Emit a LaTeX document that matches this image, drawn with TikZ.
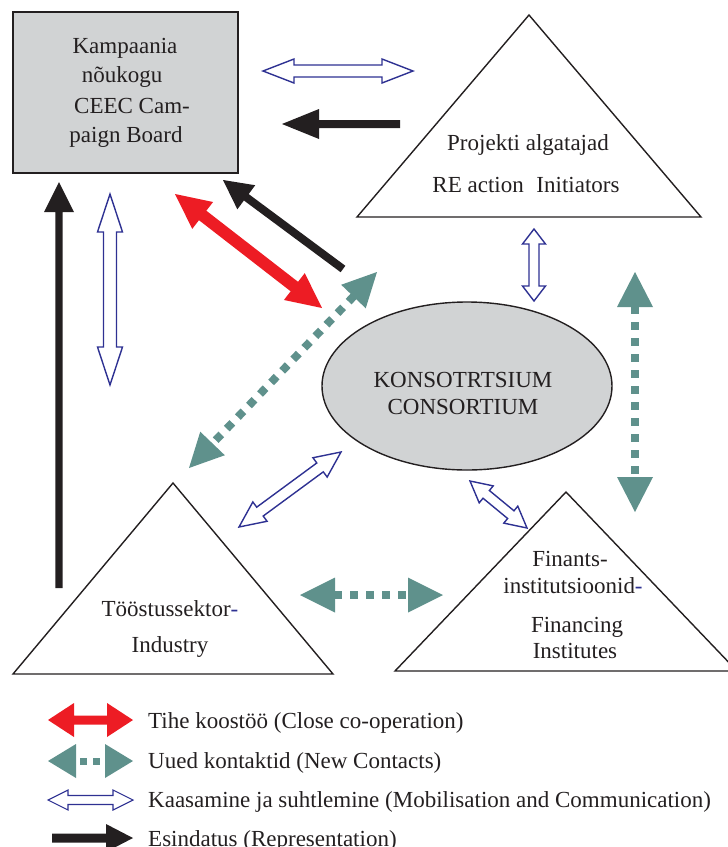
\documentclass[tikz,border=0pt]{standalone}
\usepackage{fontspec}
\setmainfont{Liberation Serif}
\usetikzlibrary{calc}
\definecolor{ablue}{HTML}{2E3192}
\definecolor{ared}{HTML}{ED1C24}
\definecolor{ablack}{HTML}{231F20}
\definecolor{ateal}{HTML}{5F918C}
\definecolor{agrey}{HTML}{D1D3D4}
% double block arrow: style, A, B, head length, head half width, shaft half width
\newcommand\blockdarrow[6]{%
  \path ($(#2)!#4!(#3)$) coordinate (ba1) ($(#3)!#4!(#2)$) coordinate (bb1);
  \draw[#1] (#2) -- ($(ba1)!#5!90:(#3)$) -- ($(ba1)!#6!90:(#3)$) -- ($(bb1)!#6!-90:(#2)$) -- ($(bb1)!#5!-90:(#2)$) -- (#3) -- ($(bb1)!#5!90:(#2)$) -- ($(bb1)!#6!90:(#2)$) -- ($(ba1)!#6!-90:(#3)$) -- ($(ba1)!#5!-90:(#3)$) -- cycle;}
% single block arrow: style, tail, tip, head length, head half width, shaft half width
\newcommand\blocksarrow[6]{%
  \path ($(#3)!#4!(#2)$) coordinate (bb1);
  \fill[#1] ($(#2)!#6!90:(#3)$) -- ($(bb1)!#6!-90:(#2)$) -- ($(bb1)!#5!-90:(#2)$) -- (#3) -- ($(bb1)!#5!90:(#2)$) -- ($(bb1)!#6!90:(#2)$) -- ($(#2)!#6!-90:(#3)$) -- cycle;}
% dotted double arrow: A, B, head length, head half width, dash style
\newcommand\dotarrow[5]{%
  \path ($(#1)!#3!(#2)$) coordinate (ba1) ($(#2)!#3!(#1)$) coordinate (bb1);
  \fill[ateal] (#1) -- ($(ba1)!#4!90:(#2)$) -- ($(ba1)!#4!-90:(#2)$) -- cycle;
  \fill[ateal] (#2) -- ($(bb1)!#4!90:(#1)$) -- ($(bb1)!#4!-90:(#1)$) -- cycle;
  \draw[ateal, #5] ($(ba1)!-1pt!(bb1)$) -- ($(bb1)!-1pt!(ba1)$);}
\tikzset{
  shapeline/.style={draw=ablack, line width=1.4pt, line join=miter},
  hollow/.style={draw=ablue, fill=white, line width=1.4pt, line join=miter},
  dots/.style={line width=8pt, dash pattern=on 8pt off 8pt},
  legdots/.style={line width=7pt, dash pattern=on 7pt off 6pt, dash phase=8pt},
  txt/.style={anchor=base, inner sep=0pt, text=ablack, font=\fontsize{23}{27}\selectfont},
  ltxt/.style={anchor=base west, inner sep=0pt, text=ablack, font=\fontsize{23}{27}\selectfont},
}
\begin{document}
\begin{tikzpicture}[x=1pt,y=-1pt]
\useasboundingbox (0,0) rectangle (728,847);
% shapes
\draw[shapeline, fill=agrey] (13,12) rectangle (238,173);
\draw[shapeline] (357,217) -- (529,15) -- (701,217) -- cycle;
\draw[shapeline, fill=agrey] (467,386) ellipse [x radius=145, y radius=84];
\draw[shapeline] (13,674) -- (173,483) -- (333,674) -- cycle;
\draw[shapeline] (395,671) -- (566,492) -- (737,671) -- cycle;
% texts
\node[txt] (b1) at (125,53) {Kampaania};
\node[txt] (b2) at (122,82) {nõukogu};
\node[txt] (b3) at (132,113) {CEEC Cam-};
\node[txt] (b4) at (126,142) {paign Board};
\node[txt] (p1) at (528,150) {Projekti algatajad};
\node[txt] (p2) at (526,192) {RE action\hspace{0.3em} Initiators};
\node[txt] (c1) at (463,387) {KONSOTRTSIUM};
\node[txt] (c2) at (463,414) {CONSORTIUM};
\node[txt] (i1) at (170,616) {Tööstussektor\textcolor{ablue}{-}};
\node[txt] (i2) at (170,652) {Industry};
\node[txt] (f1) at (570,566) {Finants-};
\node[txt] (f2) at (573,593) {institutsioonid\textcolor{ablue}{-}};
\node[txt] (f3) at (577,632) {Financing};
\node[txt] (f4) at (575,658) {Institutes};
% arrow end points
\coordinate (h1a) at (263,71);  \coordinate (h1b) at (413,71);
\coordinate (k1t) at (400,124); \coordinate (k1h) at (282,124);
\coordinate (k2t) at (343,269); \coordinate (k2h) at (223,180);
\coordinate (r1a) at (175,194); \coordinate (r1b) at (322,308);
\coordinate (t1a) at (377,272); \coordinate (t1b) at (189,468);
\coordinate (v1a) at (110,194); \coordinate (v1b) at (110,385);
\coordinate (k3t) at (59,588);  \coordinate (k3h) at (59,182);
\coordinate (v2a) at (534,229); \coordinate (v2b) at (534,301);
\coordinate (t2a) at (635,272); \coordinate (t2b) at (635,512);
\coordinate (d1a) at (341,452); \coordinate (d1b) at (239,527);
\coordinate (d2a) at (470,481); \coordinate (d2b) at (527,528);
\coordinate (t3a) at (300,595); \coordinate (t3b) at (443,595);
% arrows
\blockdarrow{hollow}{h1a}{h1b}{31pt}{12pt}{6pt}
\blocksarrow{ablack}{k1t}{k1h}{37pt}{15pt}{4pt}
\blocksarrow{ablack}{k2t}{k2h}{29pt}{15pt}{4pt}
\blockdarrow{draw=none, fill=ared}{r1a}{r1b}{35pt}{17pt}{6pt}
\dotarrow{t1a}{t1b}{34pt}{17pt}{dots}
\blockdarrow{hollow}{v1a}{v1b}{38pt}{12.5pt}{6.5pt}
\blocksarrow{ablack}{k3t}{k3h}{30pt}{15pt}{3.7pt}
\blockdarrow{hollow}{v2a}{v2b}{15pt}{11.5pt}{5pt}
\dotarrow{t2a}{t2b}{35pt}{18pt}{dots}
\blockdarrow{hollow}{d1a}{d1b}{26pt}{12pt}{5.5pt}
\blockdarrow{hollow}{d2a}{d2b}{21pt}{11pt}{5pt}
\dotarrow{t3a}{t3b}{35pt}{17.5pt}{dots}
% legend
\coordinate (l1a) at (48,720);  \coordinate (l1b) at (133,720);
\coordinate (l2a) at (48,761);  \coordinate (l2b) at (133,761);
\coordinate (l3a) at (48,800);  \coordinate (l3b) at (133,800);
\coordinate (l4a) at (52,838);  \coordinate (l4b) at (133,838);
\blockdarrow{draw=none, fill=ared}{l1a}{l1b}{26pt}{17pt}{4.5pt}
\dotarrow{l2a}{l2b}{28pt}{17pt}{legdots}
\blockdarrow{hollow, line width=1.1pt}{l3a}{l3b}{20pt}{10pt}{4.5pt}
\blocksarrow{ablack}{l4a}{l4b}{27pt}{14pt}{4.5pt}
\node[ltxt] (g1) at (148,728) {Tihe koostöö (Close co-operation)};
\node[ltxt] (g2) at (148,768) {Uued kontaktid (New Contacts)};
\node[ltxt] (g3) at (148,807) {Kaasamine ja suhtlemine (Mobilisation and Communication)};
\node[ltxt] (g4) at (148,846) {Esindatus (Representation)};
\end{tikzpicture}
\end{document}
